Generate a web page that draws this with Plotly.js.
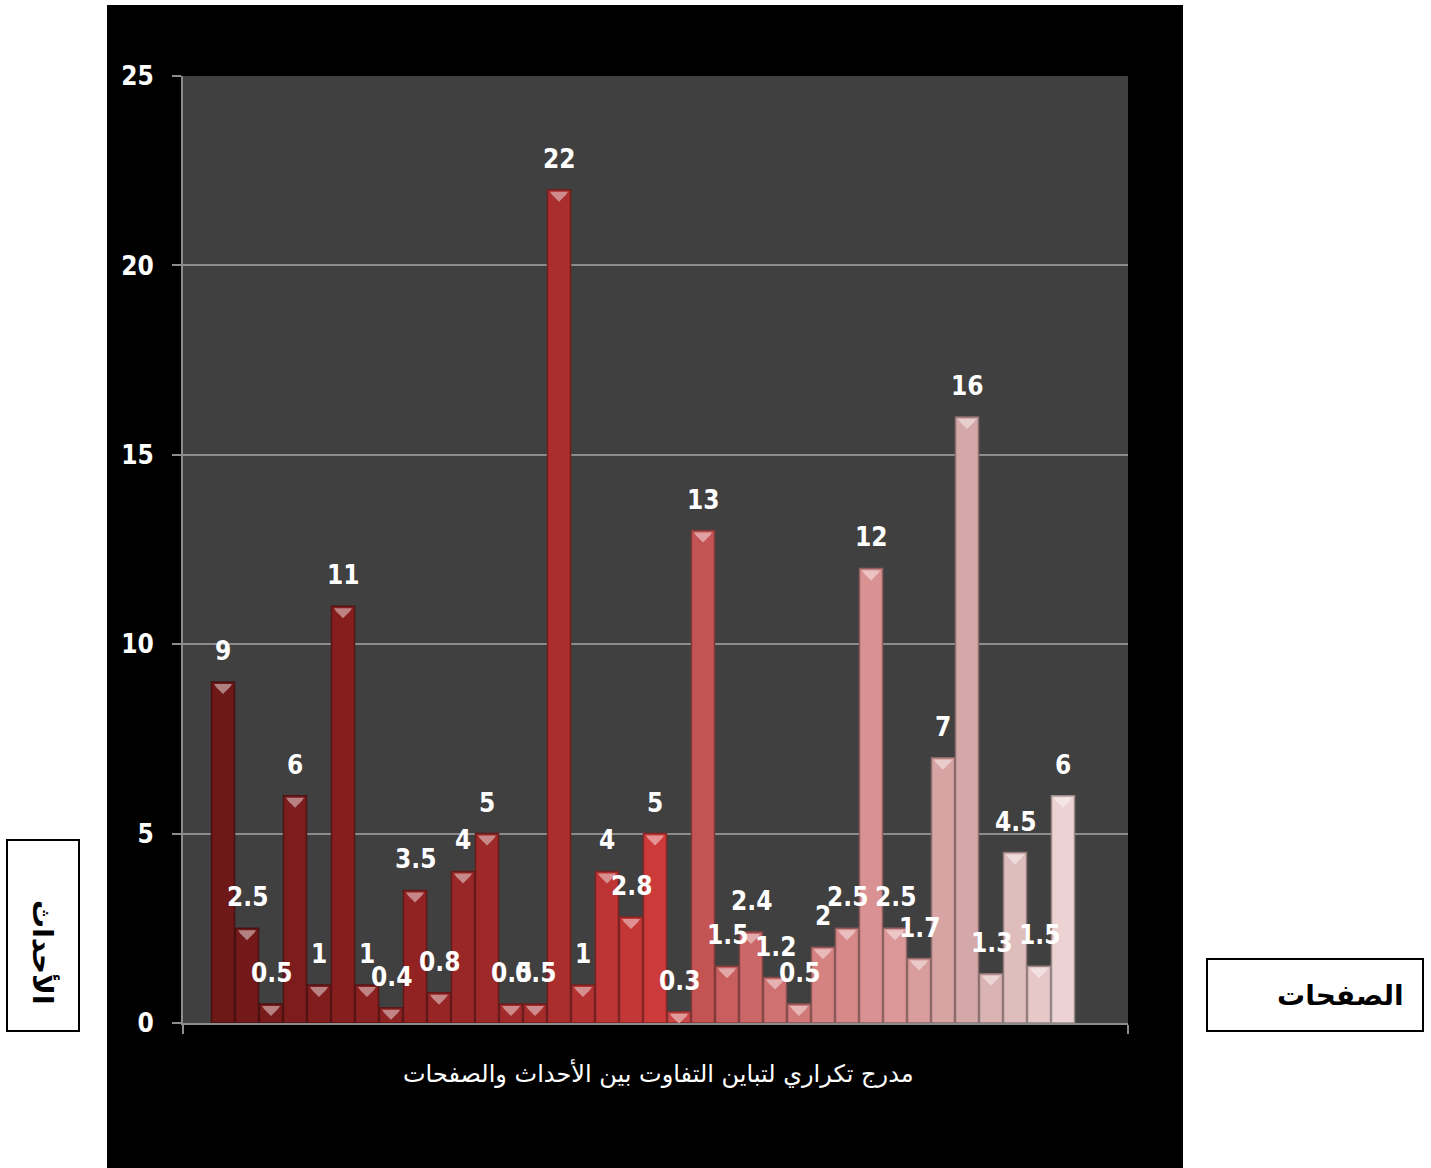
<!DOCTYPE html>
<html>
<head>
<meta charset="utf-8">
<script src="https://cdn.plot.ly/plotly-3.0.1.min.js"></script>
<style>
  html, body { margin: 0; padding: 0; background: #ffffff; width: 1431px; height: 1168px; overflow: hidden; }
  #bg { position: absolute; left: 107px; top: 5px; width: 1076px; height: 1163px; background: #000000; }
  #chart { position: absolute; left: 0; top: 0; width: 1431px; height: 1168px; }
</style>
</head>
<body>
<div id="bg"></div>
<div id="chart"></div>
<script>
// ---- data ----
const categories = [1,2,3,4,5,6,7,8,9,10,11,12,13,14,15,16,17,18,19,20,21,22,23,24,25,26,27,28,29,30,31,32,33,34,35,36];
const values = [9, 2.5, 0.5, 6, 1, 11, 1, 0.4, 3.5, 0.8, 4, 5, 0.5, 0.5, 22, 1, 4, 2.8, 5, 0.3, 13, 1.5, 2.4, 1.2, 0.5, 2, 2.5, 12, 2.5, 1.7, 7, 16, 1.3, 4.5, 1.5, 6];
const labels = ['9','2.5','0.5','6','1','11','1','0.4','3.5','0.8','4','5','0.5','0.5','22','1','4','2.8','5','0.3','13','1.5','2.4','1.2','0.5','2','2.5','12','2.5','1.7','7','16','1.3','4.5','1.5','6'];
const yTicks = [0, 5, 10, 15, 20, 25];
const xTitle = 'مدرج تكراري لتباين التفاوت بين الأحداث والصفحات';
const yBoxText = 'الأحداث';
const xBoxText = 'الصفحات';

// ---- colour gradient (style) ----
const anchors = [
  [0,  [110, 24, 24]],
  [5,  [135, 30, 30]],
  [14, [170, 46, 46]],
  [18, [205, 58, 58]],
  [20, [196, 84, 84]],
  [24, [210, 122, 122]],
  [28, [220, 152, 152]],
  [31, [212, 168, 168]],
  [35, [236, 210, 210]]
];
function colorAt(i) {
  for (let k = 0; k < anchors.length - 1; k++) {
    const [a, ca] = anchors[k], [b, cb] = anchors[k + 1];
    if (i >= a && i <= b) {
      const t = (i - a) / (b - a);
      return ca.map((v, j) => Math.round(v + (cb[j] - v) * t));
    }
  }
  return anchors[anchors.length - 1][1];
}
const rgb = v => `rgb(${v[0]},${v[1]},${v[2]})`;
const fillColors = categories.map((c, i) => rgb(colorAt(i)));
const edgeColors = categories.map((c, i) => rgb(colorAt(i).map(x => Math.round(x * 0.65))));
const hiColors = categories.map((c, i) => rgb(colorAt(i).map(x => Math.round(x + (255 - x) * 0.45))));

const trace = {
  type: 'bar',
  x: categories,
  y: values,
  marker: { color: fillColors, line: { color: edgeColors, width: 1.5 } },
  hoverinfo: 'none'
};

const L = 183, R = 1128, T = 76, B = 1023;
const W = R - L, H = B - T;
const px = v => (v - L) / W;
const py = v => (B - v) / H;

const labelFont = { family: '"DejaVu Sans Condensed", "DejaVu Sans", sans-serif', size: 26, color: '#ffffff', weight: 'bold' };

const annotations = categories.map((c, i) => ({
  x: c, y: values[i], xref: 'x', yref: 'y',
  text: labels[i], showarrow: false, yanchor: 'middle', yshift: 31,
  font: labelFont
}));

annotations.push({
  xref: 'paper', yref: 'paper', x: px(658), y: py(1073),
  text: xTitle, showarrow: false, xanchor: 'center', yanchor: 'middle',
  font: { family: '"DejaVu Sans", sans-serif', size: 24, color: '#ffffff' }
});
annotations.push({
  xref: 'paper', yref: 'paper', x: px(43), y: py(952),
  text: '<b>' + yBoxText + '</b>', showarrow: false, textangle: 90,
  xanchor: 'center', yanchor: 'middle',
  font: { family: '"DejaVu Sans", sans-serif', size: 28, color: '#000000' }
});
annotations.push({
  xref: 'paper', yref: 'paper', x: px(1340), y: py(995),
  text: '<b>' + xBoxText + '</b>', showarrow: false,
  xanchor: 'center', yanchor: 'middle',
  font: { family: '"DejaVu Sans", sans-serif', size: 28, color: '#000000' }
});

const shapes = [
  { type: 'rect', xref: 'paper', yref: 'paper', x0: px(7), x1: px(79), y0: py(1031), y1: py(840),
    fillcolor: '#ffffff', line: { color: '#000000', width: 2 } },
  { type: 'rect', xref: 'paper', yref: 'paper', x0: px(1207), x1: px(1423), y0: py(1031), y1: py(959),
    fillcolor: '#ffffff', line: { color: '#000000', width: 2 } }
];
// top highlight on each bar (pixel-sized, anchored at the bar's value)
categories.forEach((c, i) => {
  shapes.push({
    type: 'path', xref: 'x', yref: 'y', xsizemode: 'pixel', ysizemode: 'pixel',
    xanchor: c, yanchor: values[i],
    path: 'M-9,-2 L9,-2 L7,-5 L0,-12 L-7,-5 Z',
    fillcolor: hiColors[i], line: { width: 0 }, layer: 'above'
  });
});

const layout = {
  width: 1431, height: 1168,
  margin: { l: L, r: 1431 - R, t: T, b: 1168 - B, pad: 0 },
  paper_bgcolor: 'rgba(0,0,0,0)',
  plot_bgcolor: '#404040',
  showlegend: false,
  bargap: 0.04,
  xaxis: {
    type: 'linear', range: [-0.667, 38.708], fixedrange: true,
    showgrid: false, zeroline: false,
    showline: true, linecolor: '#8c8c8c', linewidth: 2,
    tickmode: 'array', tickvals: [-0.667, 38.708], ticktext: ['', ''],
    ticks: 'outside', ticklen: 9, tickcolor: '#8c8c8c', tickwidth: 2
  },
  yaxis: {
    range: [0, 25], fixedrange: true,
    tickmode: 'array', tickvals: yTicks, ticktext: yTicks.map(String),
    showgrid: true, gridcolor: '#8c8c8c', gridwidth: 2,
    zeroline: false,
    showline: true, linecolor: '#8c8c8c', linewidth: 2,
    ticks: 'outside', ticklen: 9, tickcolor: '#8c8c8c', tickwidth: 2,
    ticklabelstandoff: 13,
    tickfont: { family: '"DejaVu Sans Condensed", "DejaVu Sans", sans-serif', size: 26, color: '#ffffff', weight: 'bold' }
  },
  annotations: annotations,
  shapes: shapes
};

Plotly.newPlot('chart', [trace], layout, { displayModeBar: false, staticPlot: true });
</script>
</body>
</html>
